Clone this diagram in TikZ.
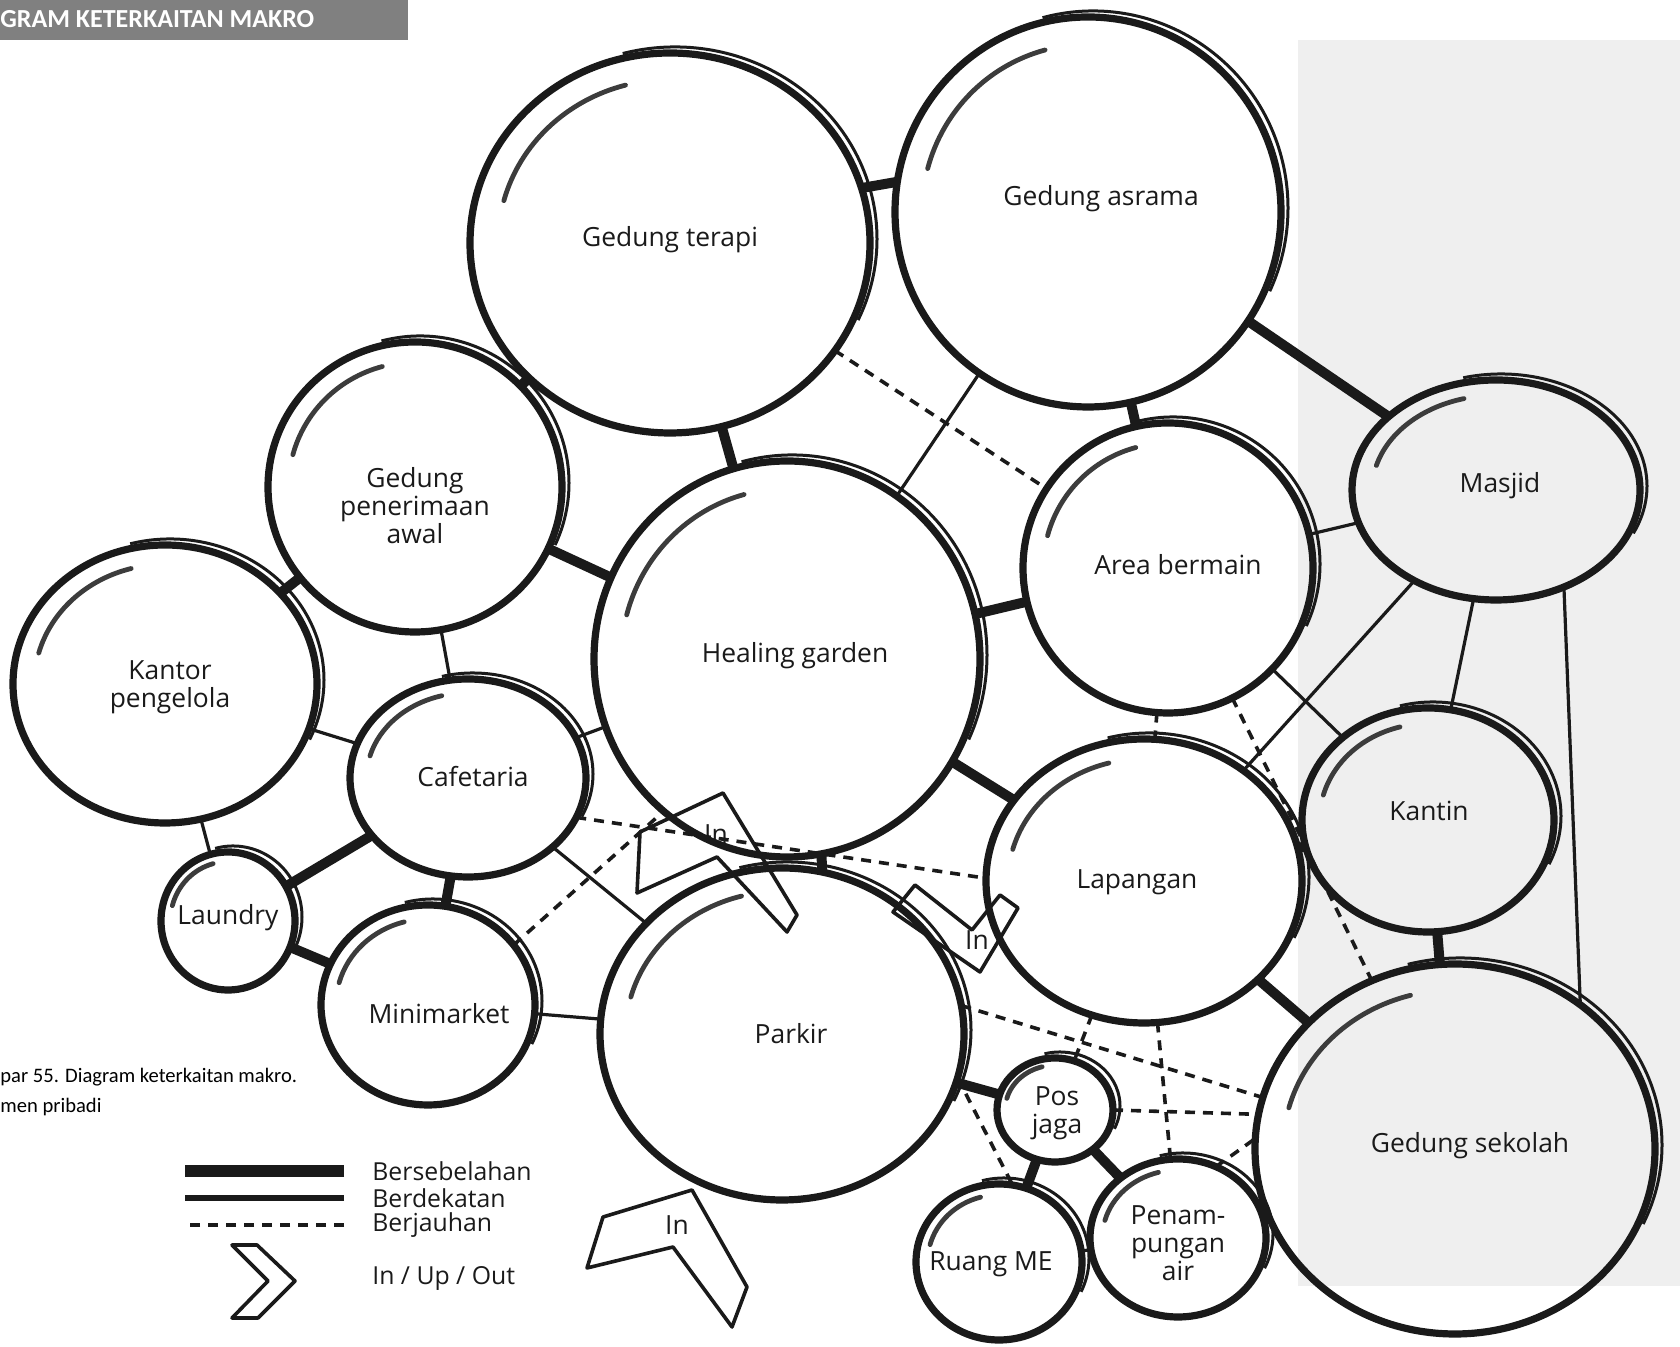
\documentclass[tikz,border=0pt]{standalone}
\usepackage{fontspec}
\setmainfont{Open Sans}
\newfontfamily\capfont{Carlito}
\usepackage{xcolor}
\definecolor{cInk}{HTML}{1A1A1A}
\definecolor{cPanel}{HTML}{EFEFEF}
\definecolor{cBar}{HTML}{808080}
\usetikzlibrary{shapes.geometric,backgrounds,calc}
\tikzset{
  bubble/.style 2 args={ellipse,draw=cInk,line width=3.6pt,
    minimum width=#1pt,minimum height=#2pt,inner sep=0pt,outer sep=0pt},
  bubble-echo/.style={draw=cInk,line width=1.5pt},
  bubble-shine/.style={draw=cInk!85,line width=2.4pt,line cap=round},
  lbl/.style={font=\fontsize{13.2}{14}\selectfont,align=center,text=cInk},
  legend-lbl/.style={font=\fontsize{12.4}{13}\selectfont,anchor=west,inner sep=0pt,text=cInk},
  link-adj/.style={draw=cInk,line width=5pt},
  link-near/.style={draw=cInk,line width=1.6pt},
  link-far/.style={draw=cInk,line width=1.8pt,dash pattern=on 5pt off 4pt},
  chevron/.style={draw=cInk,line width=1.8pt,line join=round},
}
\begin{document}
\begin{tikzpicture}[x=0.5pt,y=0.5pt]
  \useasboundingbox (0,0) rectangle (1680,1347);

  % bubbles
  \node[bubble={200}{190}] (terapi)   at (670,1104) {};
  \node[bubble={193}{195}] (asrama)   at (1088,1135) {};
  \node[bubble={147}{145}] (terima)   at (415,860) {};
  \node[bubble={152}{139}] (kantor)   at (165,663) {};
  \node[bubble={193}{198}] (healing)  at (787,688) {};
  \node[bubble={145}{145}] (bermain)  at (1168,779) {};
  \node[bubble={144}{110}] (masjid)   at (1496,857) {};
  \node[bubble={118}{99}]  (cafe)     at (468,569) {};
  \node[bubble={67}{69}]   (laundry)  at (228,426) {};
  \node[bubble={107}{100}] (mini)     at (428,342) {};
  \node[bubble={182}{166}] (parkir)   at (782,313) {};
  \node[bubble={158}{142}] (lapangan) at (1144,466) {};
  \node[bubble={126}{112}] (kantin)   at (1428,527) {};
  \node[bubble={200}{185}] (sekolah)  at (1455,198) {};
  \node[bubble={58}{52}]   (posjaga)  at (1055,237) {};
  \node[bubble={83}{78}]   (ruangme)  at (999,85) {};
  \node[bubble={88}{79}]   (tampung)  at (1178,109) {};

  % sketch strokes
  \foreach \n/\a/\b in {terapi/200/190,asrama/193/195,terima/147/145,
      kantor/152/139,healing/193/198,bermain/145/145,masjid/144/110,
      cafe/118/99,laundry/67/69,mini/107/100,parkir/182/166,
      lapangan/158/142,kantin/126/112,sekolah/200/185,posjaga/58/52,
      ruangme/83/78,tampung/88/79}{
    \draw[bubble-echo] ([shift={(5,4)}]\n.center) ++(105:{\a+2} and {\b+2})
      arc[start angle=105,end angle=-25,x radius=\a+2,y radius=\b+2];
    \draw[bubble-shine] (\n.center) ++(165:{.86*\a} and {.86*\b})
      arc[start angle=165,end angle=105,x radius=.86*\a,y radius=.86*\b];
  }

  % labels
  \node[lbl] (terapi-t)   at (670,1107) {Gedung terapi};
  \node[lbl] (asrama-t)   at (1101,1148) {Gedung asrama};
  \node[lbl] (terima-t)   at (415,841) {Gedung\\penerimaan\\awal};
  \node[lbl] (kantor-t)   at (170,660) {Kantor\\pengelola};
  \node[lbl] (healing-t)  at (795,691) {Healing garden};
  \node[lbl] (bermain-t)  at (1178,782) {Area bermain};
  \node[lbl] (masjid-t)   at (1500,861) {Masjid};
  \node[lbl] (cafe-t)     at (473,570) {Cafetaria};
  \node[lbl] (laundry-t)  at (228,429) {Laundry};
  \node[lbl] (mini-t)     at (439,333) {Minimarket};
  \node[lbl] (parkir-t)   at (791,313) {Parkir};
  \node[lbl] (lapangan-t) at (1137,465) {Lapangan};
  \node[lbl] (kantin-t)   at (1429,536) {Kantin};
  \node[lbl] (sekolah-t)  at (1470,201) {Gedung sekolah};
  \node[lbl] (posjaga-t)  at (1057,234) {Pos\\jaga};
  \node[lbl] (ruangme-t)  at (991,83) {Ruang ME};
  \node[lbl] (tampung-t)  at (1178,104) {Penam-\\pungan\\air};

  \begin{scope}[on background layer]
    \fill[cPanel] (1298,61) rectangle (1680,1307);
    % bersebelahan
    \draw[link-adj] (terapi.16) -- (asrama.171);
    \draw[link-adj] (terapi) -- (terima);
    \draw[link-adj] (terapi) -- (healing);
    \draw[link-adj] (asrama) -- (bermain);
    \draw[link-adj] (asrama) -- (masjid);
    \draw[link-adj] (terima) -- (kantor);
    \draw[link-adj] (terima) -- (healing);
    \draw[link-adj] (cafe) -- (laundry);
    \draw[link-adj] (cafe) -- (mini);
    \draw[link-adj] (laundry) -- (mini);
    \draw[link-adj] (healing.-80) -- (parkir.76);
    \draw[link-adj] (healing) -- (lapangan);
    \draw[link-adj] (healing) -- (bermain);
    \draw[link-adj] (kantin) -- (lapangan);
    \draw[link-adj] (kantin) -- (sekolah);
    \draw[link-adj] (lapangan) -- (sekolah);
    \draw[link-adj] (parkir) -- (posjaga);
    \draw[link-adj] (posjaga) -- (ruangme);
    \draw[link-adj] (posjaga) -- (tampung);
    % berdekatan
    \draw[link-near] (asrama) -- (healing);
    \draw[link-near] (terima) -- (cafe);
    \draw[link-near] (kantor) -- (cafe);
    \draw[link-near] (kantor) -- (laundry);
    \draw[link-near] (cafe) -- (healing);
    \draw[link-near] (cafe) -- (parkir);
    \draw[link-near] (mini) -- (parkir);
    \draw[link-near] (bermain) -- (masjid);
    \draw[link-near] (bermain) -- (kantin);
    \draw[link-near] (masjid) -- (lapangan);
    \draw[link-near] (masjid) -- (kantin);
    \draw[link-near] (masjid.-55) -- (sekolah.49);
    \draw[link-near] (ruangme) -- (tampung);
    % berjauhan
    \draw[link-far] (terapi) -- (bermain);
    \draw[link-far] (cafe.-20) -- (lapangan.179);
    \draw[link-far] (mini.35) -- (healing.231);
    \draw[link-far] (bermain) -- (lapangan);
    \draw[link-far] (bermain) -- (sekolah);
    \draw[link-far] (lapangan) -- (posjaga);
    \draw[link-far] (lapangan) -- (tampung);
    \draw[link-far] (parkir.9) -- (sekolah.165);
    \draw[link-far] (parkir.-14) -- (ruangme.80);
    \draw[link-far] (posjaga.0) -- (sekolah.170);
    \draw[link-far] (tampung.62) -- (sekolah.177);
  \end{scope}

  % entrances
  \draw[chevron] (637,454) -- (640,515) -- (723,554) -- (797,432) -- (787,415) -- (717,490) -- cycle;
  \node[lbl] (in-a) at (716,513) {In};
  \draw[chevron] (893,435) -- (915,462) -- (972,417) -- (1000,452) -- (1018,439) -- (980,375) -- cycle;
  \node[lbl] (in-b) at (977,407) {In};
  \draw[chevron] (692,157) -- (747,60) -- (732,20) -- (673,100) -- (587,79) -- (603,130) -- cycle;
  \node[lbl] (in-c) at (677,122) {In};

  % title and caption
  \fill[cBar] (0,1307) rectangle (408,1347);
  \node[anchor=west,inner sep=0pt,font=\capfont\bfseries\fontsize{13}{15}\selectfont,text=white]
    (title) at (0,1328) {GRAM KETERKAITAN MAKRO};
  \node[anchor=west,inner sep=0pt,font=\capfont\fontsize{10.3}{12}\selectfont]
    (cap-a) at (0,270) {par 55. Diagram keterkaitan makro.};
  \node[anchor=west,inner sep=0pt,font=\capfont\fontsize{10.3}{12}\selectfont]
    (cap-b) at (0,240) {men pribadi};

  % legend
  \node[legend-lbl] (lg-adj)  at (372,176) {Bersebelahan};
  \node[legend-lbl] (lg-near) at (372,149) {Berdekatan};
  \node[legend-lbl] (lg-far)  at (372,122) {Berjauhan};
  \node[legend-lbl] (lg-in)   at (372,69) {In / Up / Out};
  \draw[cInk,line width=6pt] ([xshift=-14pt]lg-adj.west) -- ++(-159,0);
  \draw[cInk,line width=2.6pt] ([xshift=-14pt]lg-near.west) -- ++(-159,0);
  \draw[link-far] ([xshift=-14pt]lg-far.west) -- ++(-159,0);
  \draw[chevron] (232,102) -- (257,102) -- (295,66) -- (258,29) -- (232,29) -- (268,66) -- cycle;
\end{tikzpicture}
\end{document}
